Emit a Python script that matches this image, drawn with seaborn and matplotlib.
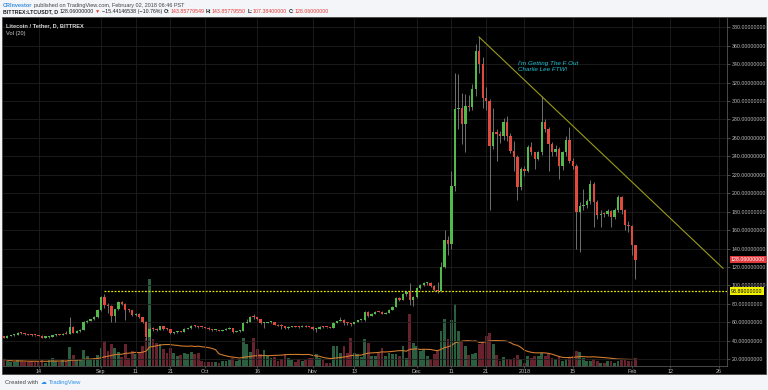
import matplotlib
matplotlib.use("Agg")
import matplotlib.pyplot as plt
import matplotlib.transforms as mtransforms
import numpy as np
import pandas as pd
import seaborn as sns
from matplotlib.patches import Rectangle

# ---------------------------------------------------------------------------
# Data (Bittrex), Aug 4 2017 - Feb 2 2018
# ---------------------------------------------------------------------------
dates = pd.date_range("2017-08-04", "2018-02-02", freq="D")

opens = [
    43.8, 43.6, 45.5, 46.1, 46.3, 49.0, 48.2, 47.2, 46.8, 46.2,
    45.8, 45.4, 43.6, 43.8, 44.6, 46.1, 46.4, 46.3, 47.8, 47.6,
    55.4, 49.0, 50.5, 51.6, 60.4, 61.6, 63.2, 65.6, 73.4, 87.8,
    79.0, 77.6, 67.2, 74.2, 82.0, 80.2, 73.8, 73.2, 68.2, 69.0,
    65.5, 60.5, 44.2, 53.2, 52.4, 52.1, 55.6, 52.8, 52.4, 48.4,
    49.2, 50.2, 50.0, 52.8, 53.6, 56.5, 56.0, 54.6, 54.5, 54.4,
    52.6, 51.4, 51.4, 51.1, 51.7, 53.0, 53.6, 49.6, 50.4, 50.8,
    59.8, 60.8, 66.2, 65.6, 63.4, 59.0, 59.6, 60.2, 60.4, 57.6,
    56.4, 56.0, 53.6, 55.4, 55.8, 55.4, 55.0, 56.4, 55.4, 55.2,
    52.4, 53.0, 55.2, 55.0, 54.6, 54.4, 59.6, 61.4, 62.6, 59.6,
    59.0, 58.2, 60.5, 62.3, 62.4, 71.3, 67.0, 69.1, 71.6, 71.4,
    69.4, 70.2, 73.4, 77.0, 86.0, 84.4, 90.5, 93.0, 84.0, 87.5,
    97.5, 100.4, 102.2, 102.8, 99.5, 95.0, 93.5, 120.2, 149.0, 144.7,
    208.4, 291.2, 292.0, 275.0, 294.8, 294.0, 312.8, 354.2, 340.5, 303.8,
    300.2, 251.6, 266.0, 264.0, 262.4, 276.8, 262.4, 246.2, 239.0, 206.6,
    226.4, 224.6, 249.8, 244.4, 237.2, 244.4, 276.8, 269.6, 253.4, 244.4,
    248.0, 230.0, 244.4, 257.7, 235.4, 230.0, 179.6, 185.7, 186.8, 191.5,
    210.2, 190.4, 176.0, 177.8, 177.0, 180.7, 174.2, 182.1, 195.8, 181.4,
    165.2, 164.1, 143.86,
]
highs = [
    44.5, 46.0, 46.8, 47.0, 49.8, 49.6, 48.6, 47.8, 47.2, 46.6,
    46.0, 45.8, 44.4, 45.2, 46.8, 47.0, 47.0, 48.4, 51.0, 66.0,
    56.0, 51.5, 52.4, 61.5, 62.5, 64.0, 66.5, 74.0, 89.0, 90.4,
    81.0, 79.0, 75.0, 83.0, 83.4, 81.0, 75.0, 73.8, 70.5, 70.0,
    66.0, 62.0, 55.0, 54.5, 53.4, 56.6, 56.0, 53.5, 52.8, 50.0,
    50.8, 50.8, 53.4, 54.2, 57.2, 57.0, 56.5, 55.2, 55.0, 54.8,
    53.0, 52.0, 51.8, 52.2, 53.6, 54.6, 54.0, 51.0, 51.5, 60.5,
    64.0, 67.0, 69.5, 66.0, 64.0, 60.5, 60.8, 61.0, 60.8, 58.0,
    58.0, 56.4, 56.0, 56.4, 56.2, 55.8, 57.6, 56.8, 56.0, 55.6,
    53.6, 55.8, 55.6, 55.4, 55.0, 60.2, 62.0, 65.5, 63.2, 60.5,
    59.6, 60.8, 62.6, 63.0, 72.0, 72.4, 70.0, 72.2, 72.4, 72.0,
    71.0, 74.0, 78.0, 87.0, 87.6, 91.5, 94.0, 103.0, 88.5, 98.5,
    101.5, 103.5, 104.0, 103.6, 100.5, 104.0, 125.0, 160.0, 153.6, 224.6,
    330.8, 329.0, 309.2, 307.4, 307.0, 318.0, 362.0, 369.6, 348.0, 315.0,
    302.0, 293.0, 269.6, 268.0, 282.0, 284.0, 265.0, 257.0, 242.0, 228.0,
    230.0, 252.0, 255.2, 245.0, 246.0, 305.6, 280.0, 272.0, 256.0, 252.0,
    250.0, 246.0, 262.0, 271.4, 238.0, 232.0, 190.0, 204.8, 194.0, 214.0,
    212.0, 193.0, 182.0, 180.0, 183.0, 182.0, 184.0, 198.0, 197.0, 183.0,
    170.0, 166.0, 143.86,
]
lows = [
    43.0, 43.2, 45.0, 45.6, 46.0, 47.6, 46.8, 46.2, 45.6, 45.2,
    44.8, 42.8, 43.0, 43.6, 44.2, 45.6, 45.8, 46.0, 47.0, 47.4,
    48.5, 48.6, 50.0, 51.2, 59.5, 61.0, 62.8, 65.0, 72.8, 76.0,
    70.0, 60.5, 60.8, 73.5, 78.5, 62.6, 71.5, 67.0, 66.5, 64.5,
    59.0, 41.0, 36.0, 50.6, 51.0, 51.8, 52.2, 51.6, 47.6, 47.8,
    48.8, 49.4, 49.8, 52.4, 53.2, 55.4, 54.0, 54.0, 53.6, 52.0,
    50.8, 50.6, 50.4, 50.8, 51.4, 52.8, 49.0, 49.2, 50.0, 50.5,
    59.0, 60.4, 64.0, 62.6, 58.0, 54.0, 59.2, 59.5, 57.0, 55.6,
    53.0, 53.0, 53.2, 55.0, 55.0, 54.4, 54.8, 55.0, 54.6, 52.0,
    49.5, 52.6, 54.4, 54.0, 54.0, 54.2, 59.2, 61.0, 57.4, 57.0,
    55.8, 57.8, 60.0, 61.6, 62.0, 66.0, 66.5, 68.6, 70.8, 68.8,
    69.0, 69.8, 73.0, 76.5, 83.6, 84.0, 89.0, 79.0, 78.0, 86.0,
    96.0, 99.0, 101.0, 98.5, 94.0, 92.0, 93.0, 119.0, 133.3, 140.0,
    203.0, 269.6, 253.4, 244.4, 289.0, 290.0, 305.0, 330.0, 293.0, 290.0,
    181.4, 248.0, 235.4, 255.0, 258.0, 257.0, 244.0, 224.6, 192.2, 204.0,
    219.0, 222.8, 242.0, 226.4, 236.0, 242.0, 266.0, 224.6, 240.0, 240.0,
    215.6, 225.0, 240.0, 233.0, 226.0, 140.0, 136.4, 181.4, 184.0, 188.0,
    163.4, 172.0, 163.4, 174.0, 175.0, 163.4, 172.0, 180.0, 178.0, 160.0,
    158.0, 132.8, 107.38,
]
closes = [
    43.6, 45.5, 46.1, 46.3, 49.0, 48.2, 47.2, 46.8, 46.2, 45.8,
    45.4, 43.6, 43.8, 44.6, 46.1, 46.4, 46.3, 47.8, 47.6, 55.4,
    49.0, 50.5, 51.6, 60.4, 61.6, 63.2, 65.6, 73.4, 87.8, 79.0,
    77.6, 67.2, 74.2, 82.0, 80.2, 73.8, 73.2, 68.2, 69.0, 65.5,
    60.5, 44.2, 53.2, 52.4, 52.1, 55.6, 52.8, 52.4, 48.4, 49.2,
    50.2, 50.0, 52.8, 53.6, 56.5, 56.0, 54.6, 54.5, 54.4, 52.6,
    51.4, 51.4, 51.1, 51.7, 53.0, 53.6, 49.6, 50.4, 50.8, 59.8,
    60.8, 66.2, 65.6, 63.4, 59.0, 59.6, 60.2, 60.4, 57.6, 56.4,
    56.0, 53.6, 55.4, 55.8, 55.4, 55.0, 56.4, 55.4, 55.2, 52.4,
    53.0, 55.2, 55.0, 54.6, 54.4, 59.6, 61.4, 62.6, 59.6, 59.0,
    58.2, 60.5, 62.3, 62.4, 71.3, 67.0, 69.1, 71.6, 71.4, 69.4,
    70.2, 73.4, 77.0, 86.0, 84.4, 90.5, 93.0, 84.0, 87.5, 97.5,
    100.4, 102.2, 102.8, 99.5, 95.0, 93.5, 120.2, 149.0, 144.7, 208.4,
    291.2, 292.0, 275.0, 294.8, 294.0, 312.8, 354.2, 340.5, 303.8, 300.2,
    251.6, 266.0, 264.0, 262.4, 276.8, 262.4, 246.2, 239.0, 206.6, 226.4,
    224.6, 249.8, 244.4, 237.2, 244.4, 276.8, 269.6, 253.4, 244.4, 248.0,
    230.0, 244.4, 257.7, 235.4, 230.0, 179.6, 185.7, 186.8, 191.5, 210.2,
    190.4, 176.0, 177.8, 177.0, 180.7, 174.2, 182.1, 195.8, 181.4, 165.2,
    164.1, 143.86, 128.06,
]
# volume in chart pixels (relative scale, as drawn by the Vol pane)
volumes = [
    6.7, 5.0, 4.3, 4.0, 5.7, 5.0, 4.0, 3.7, 5.0, 4.3,
    4.0, 5.7, 3.3, 5.7, 8.3, 5.0, 4.3, 5.7, 5.0, 19.0,
    11.0, 5.7, 6.7, 15.7, 10.0, 6.7, 8.3, 11.0, 18.3, 25.0,
    15.0, 21.7, 18.3, 14.3, 9.0, 21.7, 8.3, 15.0, 12.3, 13.3,
    20.0, 28.3, 87.0, 26.7, 23.3, 21.7, 16.7, 13.3, 18.3, 13.3,
    10.0, 11.0, 13.3, 12.3, 14.3, 11.7, 13.3, 5.0, 4.3, 3.7,
    4.0, 3.7, 3.3, 5.0, 5.0, 6.0, 7.7, 5.0, 6.7, 27.7,
    21.7, 14.3, 28.3, 16.7, 12.3, 15.7, 10.0, 7.7, 9.0, 5.0,
    6.7, 11.7, 8.3, 5.7, 4.3, 6.7, 5.0, 5.7, 8.3, 7.7,
    11.7, 8.3, 5.7, 3.3, 3.3, 20.0, 20.0, 13.3, 20.0, 13.3,
    27.7, 13.3, 11.7, 9.0, 26.7, 23.3, 10.0, 10.0, 13.3, 18.3,
    10.0, 13.3, 11.7, 12.3, 10.0, 20.0, 8.3, 51.7, 23.3, 20.0,
    15.0, 16.7, 10.0, 6.7, 11.7, 15.0, 35.0, 46.7, 26.7, 45.7,
    61.7, 35.0, 25.0, 20.0, 11.0, 11.7, 13.3, 22.0, 25.0, 30.0,
    33.0, 22.0, 11.0, 5.0, 9.0, 6.7, 6.7, 8.3, 11.0, 6.7,
    3.3, 10.0, 8.3, 10.0, 10.0, 13.3, 10.0, 13.3, 8.3, 6.7,
    10.0, 5.0, 6.7, 8.3, 10.0, 15.0, 14.0, 8.3, 5.0, 5.0,
    6.7, 5.0, 3.3, 3.3, 5.0, 5.0, 3.3, 5.0, 5.7, 5.7,
    5.0, 5.0, 8.3,
]

price_ticks = list(range(20, 381, 20))
tick_dates = ["2017-08-14", "2017-09-01", "2017-09-11", "2017-09-21", "2017-10-01",
              "2017-10-16", "2017-11-01", "2017-11-13", "2017-12-01", "2017-12-11",
              "2017-12-21", "2018-01-01", "2018-01-15", "2018-02-01", "2018-02-12",
              "2018-02-26"]
tick_labels = ["14", "Sep", "11", "21", "Oct", "16", "Nov", "13", "Dec", "11",
               "21", "2018", "15", "Feb", "12", "26"]

support_level = 93.89
support_start = "2017-09-01"
last_price = 128.06
trend_dates = ["2017-12-19", "2018-02-27"]
trend_prices = [369.6, 118.5]

# ---------------------------------------------------------------------------
# Figure
# ---------------------------------------------------------------------------
sns.set_theme(style="dark")
plt.rcParams["font.family"] = ["Liberation Sans", "DejaVu Sans"]

W, H = 768, 390
fig = plt.figure(figsize=(W / 100, H / 100), dpi=100, facecolor="#f3f5f8")

fig.patches.append(Rectangle((2 / W, 1 - 374 / H), 764 / W, 357 / H,
                             transform=fig.transFigure, facecolor="black",
                             edgecolor="#4a4a4a", linewidth=0.6, zorder=-5))

rect = [3 / W, 1 - 366 / H, 724 / W, 348.5 / H]
ax_vol = fig.add_axes(rect)
ax = fig.add_axes(rect, sharex=ax_vol)
ax_vol.set_facecolor("black")
ax.patch.set_visible(False)

GREEN = "#53b94a"
RED = "#e04a3c"
x = np.arange(len(dates))
o = np.array(opens)
c = np.array(closes)
up = c >= o

# volume pane
vol_colors = np.where(up, "#2d6442", "#6e2430")
ax_vol.bar(x, volumes, width=0.8, color=vol_colors, alpha=0.95, linewidth=0)
vol_ma = pd.Series(volumes).rolling(20, min_periods=1).mean()
sns.lineplot(x=x, y=vol_ma.values, ax=ax_vol, color="#cf7b2e", linewidth=0.8)
ax_vol.set_ylim(0, 348.5)
ax_vol.set_yticks([])
ax_vol.tick_params(axis="x", bottom=False, labelbottom=False)
for s in ax_vol.spines.values():
    s.set_visible(False)

# candles
ax.vlines(x, lows, highs, color="#707070", linewidth=0.7, zorder=2)
body_low = np.minimum(o, c)
body_h = np.maximum(np.abs(c - o), 1.1)
ax.bar(x, body_h, bottom=body_low, width=0.68,
       color=np.where(up, GREEN, RED), linewidth=0, zorder=3)

# drawings
support_i = (pd.Timestamp(support_start) - dates[0]).days + 0.9
ax.hlines(support_level, support_i, 208.4, color="#e6e600",
          linestyle=(0, (1.5, 1.2)), linewidth=0.9, zorder=4)
trend_i = [(pd.Timestamp(d) - dates[0]).days for d in trend_dates]
ax.plot([trend_i[0] - 0.1, trend_i[1] + 0.3], trend_prices, color="#9a9a1c",
        linewidth=0.8, zorder=4)
ax.text(148.2, 340.5, "I'm Getting The F Out", color="#1fc3d9", fontsize=4.5,
        style="italic", va="center", ha="left")
ax.text(148.2, 334.0, "Charlie Lee FTW!", color="#1fc3d9", fontsize=4.5,
        style="italic", va="center", ha="left")

# axes
ax.set_xlim(-0.24, 208.4)
ax.set_ylim(12.7, 390.6)
ax.yaxis.tick_right()
ax.set_yticks(price_ticks)
ax.set_yticklabels([f"{v:.8f}" for v in price_ticks])
ax.set_xticks([(pd.Timestamp(d) - dates[0]).days for d in tick_dates])
ax.set_xticklabels(tick_labels)
ax.tick_params(axis="y", labelsize=3.8, length=2.5, width=0.5, pad=1,
               color="#666666", labelcolor="#bdbdbd", right=True, left=False)
ax.tick_params(axis="x", labelsize=3.9, length=1.5, width=0.5, pad=0.4,
               color="#666666", labelcolor="#c4c4c4", bottom=True)
ax.grid(True, color="#1f1f1f", linewidth=0.6)
ax.set_axisbelow(True)
for side in ["top", "left"]:
    ax.spines[side].set_visible(False)
for side in ["right", "bottom"]:
    ax.spines[side].set_color("#555555")
    ax.spines[side].set_linewidth(0.6)

# price tags on the scale
blend = mtransforms.blended_transform_factory(ax.transAxes, ax.transData)
ax.text(1.0055, last_price, f"{last_price:.8f}", transform=blend, fontsize=3.8,
        color="white", va="center", ha="left", clip_on=False, zorder=10,
        bbox=dict(boxstyle="square,pad=0.25", fc="#e0393e", ec="none"))
ax.text(1.0055, support_level, f"{support_level:.8f}", transform=blend,
        fontsize=3.8, color="black", va="center", ha="left", clip_on=False,
        zorder=10, bbox=dict(boxstyle="square,pad=0.25", fc="#f2f200", ec="none"))

# labels inside chart
fig.text(6.5 / W, 1 - 25.5 / H, "Litecoin / Tether, D, BITTREX", color="#d8d8d8",
         fontsize=4.1, fontweight="bold", va="center", ha="left")
fig.text(6.5 / W, 1 - 33.3 / H, "Vol (20)", color="#cfcfcf", fontsize=4.1,
         va="center", ha="left")

# header and footer, written as runs of text
renderer = fig.canvas.get_renderer()


def write_run(x_px, y_px, parts, size):
    for text, color, weight, gap in parts:
        t = fig.text(x_px / W, 1 - y_px / H, text, color=color, fontsize=size,
                     fontweight=weight, va="center", ha="left")
        x_px += t.get_window_extent(renderer=renderer).width + gap


write_run(3, 5.2, [
    ("CRInvestor", "#3b8fe0", "bold", 1.3),
    ("published on TradingView.com, February 02, 2018 06:46 PST", "#444444", "normal", 0),
], 4.0)
write_run(3, 11.8, [
    ("BITTREX:LTCUSDT, D", "#1e1e1e", "bold", 1.5),
    ("128.06000000", "#1e1e1e", "normal", 1.5),
    ("▼", "#e53935", "normal", 1.5),
    ("−15.44146538 (−10.76%)", "#1e1e1e", "normal", 1.6),
    ("O:", "#1e1e1e", "bold", 0.3),
    ("143.85779549", "#e53935", "normal", 1.6),
    ("H:", "#1e1e1e", "bold", 0.3),
    ("143.85779550", "#e53935", "normal", 1.6),
    ("L:", "#1e1e1e", "bold", 0.3),
    ("107.38400000", "#e53935", "normal", 1.6),
    ("C:", "#1e1e1e", "bold", 0.3),
    ("128.06000000", "#e53935", "normal", 0),
], 3.8)
write_run(5, 382.5, [
    ("Created with", "#444444", "normal", 3),
    ("☁", "#2a8ee8", "normal", 2),
    ("TradingView", "#2a8ee8", "normal", 0),
], 4.2)

fig.savefig("out.png", dpi=100, facecolor=fig.get_facecolor())
